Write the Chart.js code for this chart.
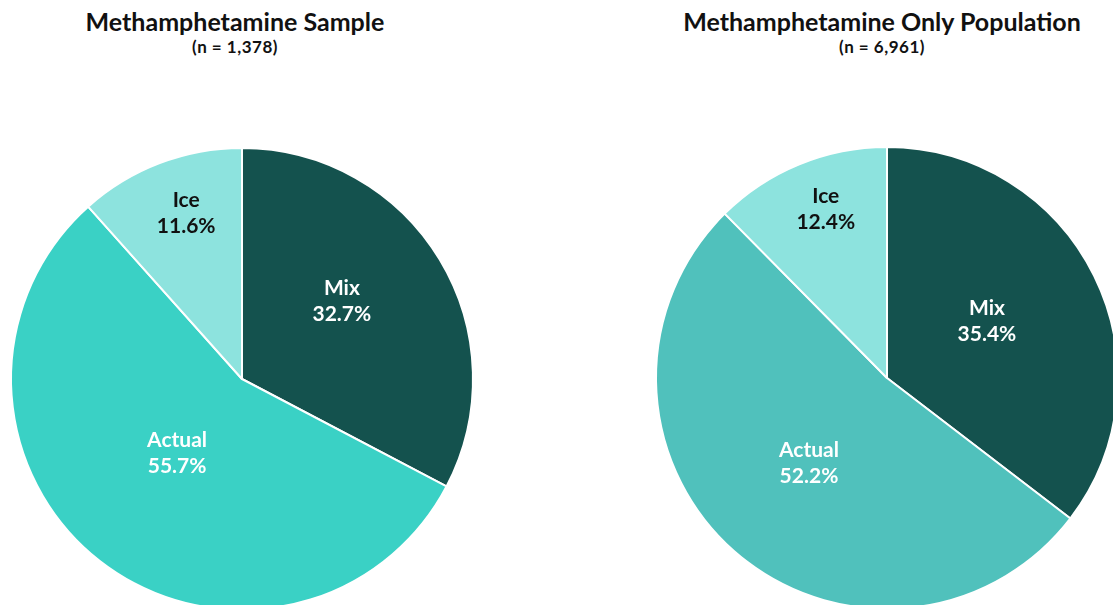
<!DOCTYPE html>
<html>
<head>
<meta charset="utf-8">
<script src="https://cdn.jsdelivr.net/npm/chart.js@4/dist/chart.umd.min.js"></script>
<style>
  html, body { margin: 0; padding: 0; background: #fff; overflow: hidden; }
  body { width: 1113px; height: 605px; position: relative; font-family: Lato, "Noto Sans", sans-serif; }
  .title { position: absolute; width: 600px; text-align: center; color: #111; font-weight: bold; }
  .title .main { font-size: 25px; line-height: 28px; }
  .title .sub { font-size: 17px; line-height: 20px; margin-top: 2px; letter-spacing: 0.5px; }
  canvas { position: absolute; }
</style>
</head>
<body>
<div class="title" style="left:-65px; top:7px;">
  <div class="main">Methamphetamine Sample</div>
  <div class="sub">(n = 1,378)</div>
</div>
<div class="title" style="left:582px; top:7px;">
  <div class="main">Methamphetamine Only Population</div>
  <div class="sub">(n = 6,961)</div>
</div>
<canvas id="left" width="480" height="480" style="left:2px; top:139px;"></canvas>
<canvas id="right" width="480" height="480" style="left:647px; top:138px;"></canvas>
<script>
const categories = ["Mix", "Actual", "Ice"];
const sampleValues = [32.7, 55.7, 11.6];
const populationValues = [35.4, 52.2, 12.4];

const darkTeal = "#14524e";
const iceColor = "#8de3de";

// draws "Name\nValue%" inside each slice
const sliceLabels = {
  id: "sliceLabels",
  afterDatasetsDraw(chart, args, opts) {
    const { ctx } = chart;
    const meta = chart.getDatasetMeta(0);
    const values = chart.data.datasets[0].data;
    ctx.save();
    ctx.font = "bold 21px Lato";
    ctx.textAlign = "center";
    ctx.textBaseline = "middle";
    meta.data.forEach((arc, i) => {
      const p = arc.getProps(["x", "y", "startAngle", "endAngle", "outerRadius"], true);
      const mid = (p.startAngle + p.endAngle) / 2 + opts.nudge[i] * Math.PI / 180;
      const r = p.outerRadius * opts.radial[i];
      const x = p.x + Math.cos(mid) * r;
      const y = p.y + Math.sin(mid) * r;
      ctx.fillStyle = opts.colors[i];
      ctx.fillText(chart.data.labels[i], x, y - 13);
      ctx.fillText(values[i].toFixed(1) + "%", x, y + 13);
    });
    ctx.restore();
  }
};

function makePie(id, values, actualColor, radial, nudge) {
  return new Chart(document.getElementById(id), {
    type: "pie",
    data: {
      labels: categories,
      datasets: [{
        data: values,
        backgroundColor: [darkTeal, actualColor, iceColor],
        borderColor: "#fff",
        borderWidth: 2,
      }],
    },
    options: {
      responsive: false,
      animation: false,
      radius: 231,
      events: [],
      plugins: {
        legend: { display: false },
        tooltip: { enabled: false },
        sliceLabels: { radial: radial, nudge: nudge, colors: ["#fff", "#fff", "#111"] },
      },
    },
    plugins: [sliceLabels],
  });
}

makePie("left", sampleValues, "#3ad1c5", [0.549, 0.426, 0.758], [-6.9, 3.3, 2.3]);
makePie("right", populationValues, "#50c1bc", [0.498, 0.5, 0.778], [-3.4, 1.1, 2.4]);
</script>
</body>
</html>
